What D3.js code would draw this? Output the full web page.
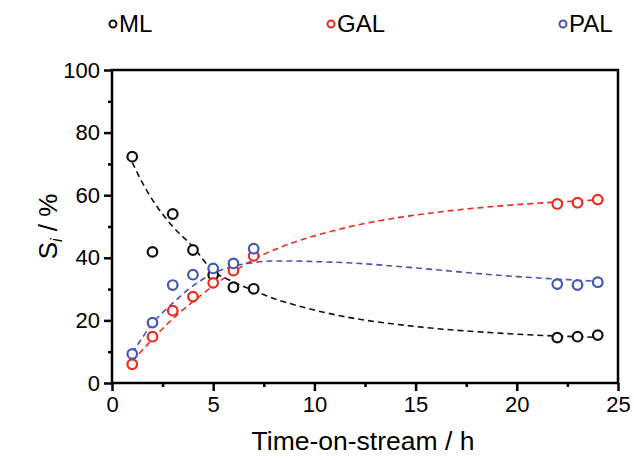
<!DOCTYPE html>
<html>
<head>
<meta charset="utf-8">
<script src="https://cdn.jsdelivr.net/npm/d3@7"></script>
<style>
  body { margin: 0; background: #fff; }
  svg text { font-family: "Liberation Sans", Arial, sans-serif; fill: #000; }
</style>
</head>
<body>
<svg id="chart" width="634" height="460"></svg>
<script>
// measured points
const times = [1, 2, 3, 4, 5, 6, 7, 22, 23, 24];
const ml  = [72.3, 41.9, 54.0, 42.5, 34.5, 30.6, 30.1, 14.5, 14.8, 15.3];
const gal = [6.0, 14.8, 23.1, 27.6, 32.0, 35.9, 40.6, 57.2, 57.6, 58.6];
const pal = [9.3, 19.3, 31.3, 34.6, 36.6, 38.2, 42.9, 31.6, 31.3, 32.2];

// fitted curves
const fitTimes = [1, 1.5, 2, 3, 4, 5, 6, 7, 8, 9, 10, 12, 14, 16, 18, 20, 22, 24];
const mlFit  = [70.5, 64, 58.5, 50, 43.5, 35.8, 32.3, 29.5, 27, 25, 23.3, 20.6, 18.8, 17.4, 16.4, 15.6, 15.0, 14.6];
const galFit = [7, 10.5, 14, 20.5, 26, 31, 35.5, 39.5, 42.5, 45, 47, 50.3, 52.7, 54.5, 55.9, 57, 57.8, 58.5];
const palFit = [9.5, 14.5, 19, 25.5, 31, 35, 37.3, 38.5, 39, 39, 38.8, 38.3, 37.3, 36.2, 35, 34, 33.2, 32.5];

const seriesNames = ['ML', 'GAL', 'PAL'];
const colors = ['#111111', '#f0281e', '#4656b4'];

const xTicks = [0, 5, 10, 15, 20, 25];
const yTicks = [0, 20, 40, 60, 80, 100];

const svg = d3.select('#chart');
const mLeft = 112, mRight = 618, mTop = 70, mBottom = 383;

const x = d3.scaleLinear().domain([0, 25]).range([mLeft, mRight]);
const y = d3.scaleLinear().domain([0, 100]).range([mBottom, mTop]);

// frame
svg.append('rect')
  .attr('x', mLeft).attr('y', mTop)
  .attr('width', mRight - mLeft).attr('height', mBottom - mTop)
  .attr('fill', 'none').attr('stroke', '#000').attr('stroke-width', 2.5);

// minor ticks
const xMinor = d3.axisBottom(x).tickValues(d3.range(2.5, 25, 5)).tickSize(4).tickFormat('');
const yMinor = d3.axisLeft(y).tickValues(d3.range(10, 100, 20)).tickSize(4).tickFormat('');
svg.append('g').attr('class', 'minor').attr('transform', `translate(0,${mBottom})`).call(xMinor);
svg.append('g').attr('class', 'minor').attr('transform', `translate(${mLeft},0)`).call(yMinor);

const xAxis = svg.append('g')
  .attr('transform', `translate(0,${mBottom})`)
  .call(d3.axisBottom(x).tickValues(xTicks).tickSize(8).tickPadding(5));
const yAxis = svg.append('g')
  .attr('transform', `translate(${mLeft},0)`)
  .call(d3.axisLeft(y).tickValues(yTicks).tickSize(8).tickPadding(4));

svg.selectAll('.domain').remove();
svg.selectAll('.tick line').attr('stroke', '#000').attr('stroke-width', 2.5);
svg.selectAll('.tick text').style('font-size', '22px').style('font-family', '"Liberation Sans", Arial, sans-serif').attr('fill', '#000');

// axis titles
svg.append('text')
  .attr('x', (mLeft + mRight) / 2 - 2).attr('y', 450)
  .attr('text-anchor', 'middle')
  .style('font-size', '26.5px')
  .text('Time-on-stream / h');

const yt = svg.append('text')
  .attr('transform', `translate(57,${(mTop + mBottom) / 2}) rotate(-90)`)
  .attr('text-anchor', 'middle')
  .style('font-size', '26px');
yt.append('tspan').text('S');
yt.append('tspan').attr('font-style', 'italic').attr('font-size', '16px').attr('dy', 5).text('i');
yt.append('tspan').attr('dy', -5).text(' / %');

// fit lines
const line = d3.line().x(d => x(d[0])).y(d => y(d[1])).curve(d3.curveMonotoneX);
const fits = [mlFit, galFit, palFit];
fits.forEach((f, i) => {
  svg.append('path')
    .datum(fitTimes.map((t, j) => [t, f[j]]))
    .attr('d', line)
    .attr('fill', 'none')
    .attr('stroke', colors[i])
    .attr('stroke-width', 1.6)
    .attr('stroke-dasharray', '6,4');
});

// points
const pts = [ml, gal, pal];
pts.forEach((s, i) => {
  svg.append('g').selectAll('circle')
    .data(times.map((t, j) => [t, s[j]]))
    .enter().append('circle')
    .attr('cx', d => x(d[0]))
    .attr('cy', d => y(d[1]))
    .attr('r', 4.8)
    .attr('fill', '#fff')
    .attr('stroke', colors[i])
    .attr('stroke-width', 2.2);
});

// legend
const legendX = [113, 331, 563];
seriesNames.forEach((n, i) => {
  svg.append('circle')
    .attr('cx', legendX[i]).attr('cy', 24).attr('r', 3.5)
    .attr('fill', '#fff').attr('stroke', colors[i]).attr('stroke-width', 2);
  svg.append('text')
    .attr('x', legendX[i] + 6).attr('y', 32)
    .style('font-size', '24px')
    .text(n);
});
</script>
</body>
</html>
